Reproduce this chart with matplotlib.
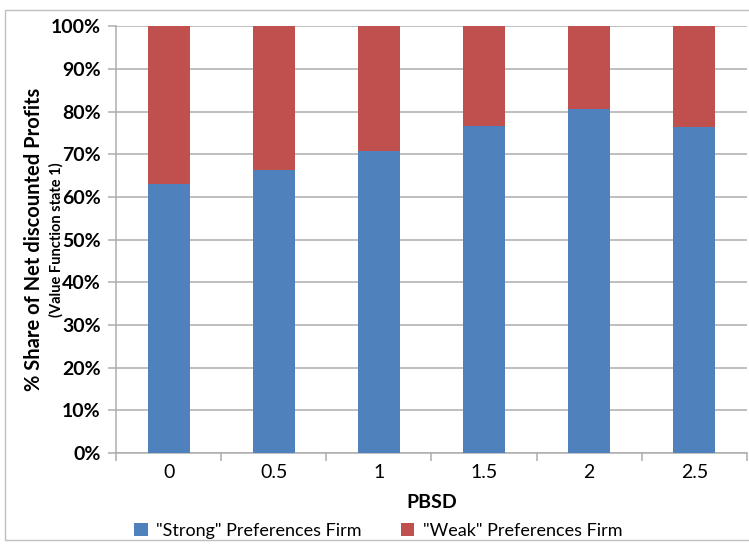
import numpy as np
import matplotlib.pyplot as plt
from matplotlib.patches import Rectangle
from matplotlib.ticker import PercentFormatter

plt.rcParams['font.family'] = ['Lato', 'DejaVu Sans']

pbsd = ["0", "0.5", "1", "1.5", "2", "2.5"]
strong = [63.0, 66.4, 70.7, 76.7, 80.6, 76.4]
weak = [100 - s for s in strong]

BLUE = "#4F81BD"
RED = "#C0504D"
GRID = "#ADADAD"

fig = plt.figure(figsize=(7.49, 5.48), dpi=100)
ax = fig.add_axes([116 / 749, 1 - 453 / 548, 631 / 749, 426.7 / 548])

x = np.arange(len(pbsd))
ax.bar(x, strong, width=0.4, color=BLUE, label='"Strong" Preferences Firm', zorder=3)
ax.bar(x, weak, width=0.4, bottom=strong, color=RED, label='"Weak" Preferences Firm', zorder=3)

ax.set_xlim(-0.5, len(pbsd) - 0.5)
ax.set_ylim(0, 100)
ax.set_yticks(np.arange(0, 101, 10))
ax.yaxis.set_major_formatter(PercentFormatter(decimals=0))
ax.grid(axis="y", color=GRID, linewidth=1.1, zorder=0)

# category labels centred, tick marks at the boundaries
ax.set_xticks(x)
ax.set_xticklabels(pbsd)
ax.set_xticks(np.arange(-0.5, len(pbsd)), minor=True)
ax.tick_params(axis="x", which="major", length=0, pad=8, labelsize=14)
ax.tick_params(axis="x", which="minor", length=6, color=GRID, width=1.1)
ax.tick_params(axis="y", length=6, color=GRID, width=1.1, pad=5, labelsize=14)
for lab in ax.get_yticklabels():
    lab.set_fontweight("bold")

for side in ("top", "right"):
    ax.spines[side].set_visible(False)
for side in ("left", "bottom"):
    ax.spines[side].set_color(GRID)
    ax.spines[side].set_linewidth(1.1)

ax.set_xlabel("PBSD", fontsize=14, fontweight="bold", labelpad=9)

ymid = 1 - (453 + 26.3) / 2 / 548
fig.text(34 / 749, ymid, "% Share of Net discounted Profits", rotation=90,
         fontsize=14.5, fontweight="bold", ha="center", va="center")
fig.text(56 / 749, ymid, "(Value Function state 1)", rotation=90,
         fontsize=10.5, fontweight="bold", ha="center", va="center")

fig.legend(loc="center", bbox_to_anchor=(378 / 749, 1 - 531 / 548), ncol=2,
           frameon=False, fontsize=13, handlelength=0.75, handleheight=0.75,
           columnspacing=2.2, handletextpad=0.45)

fig.patches.append(Rectangle((5 / 749, 1 - 540 / 548), 750 / 749, 530 / 548,
                             transform=fig.transFigure, fill=False,
                             edgecolor="#BFBFBF", linewidth=1))

fig.savefig("out.png", dpi=100)
